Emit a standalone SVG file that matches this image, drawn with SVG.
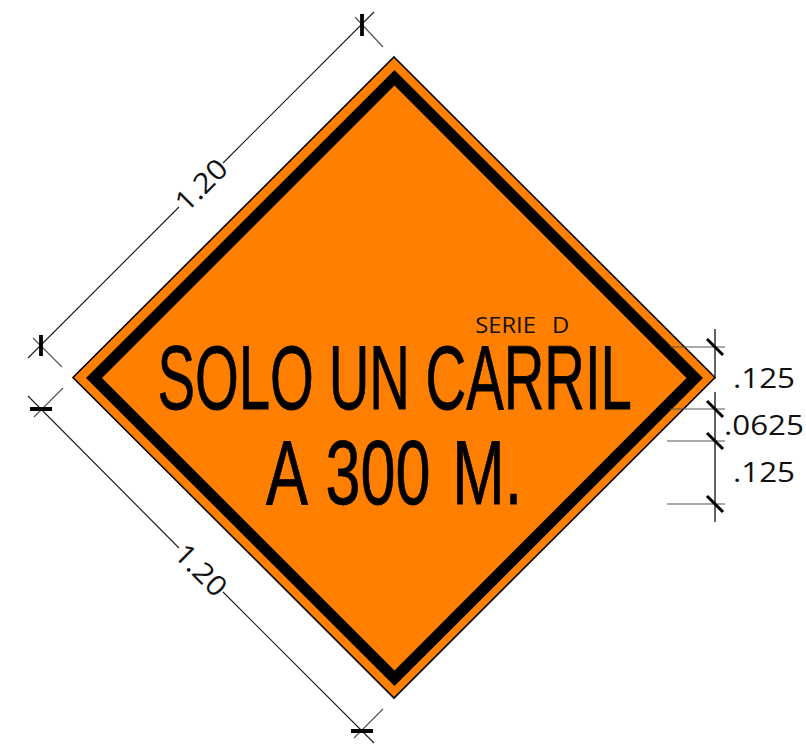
<svg xmlns="http://www.w3.org/2000/svg" width="806" height="746" viewBox="0 0 806 746">
<style>
.dim{fill:none;stroke:#222;stroke-width:1.2}
.ext{fill:none;stroke:#555;stroke-width:1.2}
.tick{fill:none;stroke:#000;stroke-width:3.8}
.big{font-family:"Liberation Sans",Arial,sans-serif;font-size:90px;fill:#000;stroke:#000;stroke-width:.8}
.lbl{font-family:"Open Sans","Liberation Sans",sans-serif;fill:#111;font-size:28px}
.serie{font-family:"Open Sans","Liberation Sans",sans-serif;font-size:22px;fill:#111}
</style>
<rect width="806" height="746" fill="#fff"/>
<g id="sign">
<polygon points="394,57 715,377.500 394,698 73,377.500" fill="#ff8000" stroke="#000" stroke-width="1.600"/>
<path fill-rule="evenodd" fill="#000" d="M394.500 70 703 378 394.500 686 86 378Z M394.500 85.500 686.500 378 394.500 670.500 102 378Z"/>
</g>
<g id="sign-text">
<text class="big" transform="translate(0 409) scale(.625 1)"><tspan x="252">SOLO</tspan><tspan x="526">UN</tspan><tspan x="681">CARRIL</tspan></text>
<text class="big" transform="translate(0 504) scale(.7 1)"><tspan x="380">A</tspan><tspan x="465">300</tspan><tspan x="646">M.</tspan></text>
<text class="serie" transform="translate(0 332.500) scale(1.08 1)"><tspan x="440">SERIE</tspan><tspan x="511">D</tspan></text>
</g>
<g id="connectors">
<path class="dim" d="M28 358 179 207M223 163 374 12"/>
<path class="dim" d="M28 396 179 548M223 592 374 743"/>
<path class="ext" d="M33 338 62 367M355 17 383 47M63 388 34 417M383 709 354 738"/>
<path class="dim" style="stroke-width:1.400" d="M715 329V379M715 392V522"/>
<path class="ext" d="M670 347H725M670 409H725M667 441H725M667 504H725"/>
<path class="tick" d="M41 335V356M362 14V36M30 409H52M351 731H373"/>
<path class="tick" style="stroke-width:3" d="M707 339 723 355M707 401 723 417M707 433 723 449M707 496 723 512"/>
</g>
<g id="dimension-labels">
<text class="lbl" text-anchor="middle" transform="translate(201 185) rotate(-45) scale(1.1 1) translate(0 10)">1.20</text>
<text class="lbl" text-anchor="middle" transform="translate(201 570) rotate(45) scale(1.1 1) translate(0 10)">1.20</text>
<text class="lbl" transform="translate(733 388) scale(1.12 1)">.125</text>
<text class="lbl" transform="translate(724 435) scale(1.12 1)">.0625</text>
<text class="lbl" transform="translate(733 482) scale(1.12 1)">.125</text>
</g>
</svg>
